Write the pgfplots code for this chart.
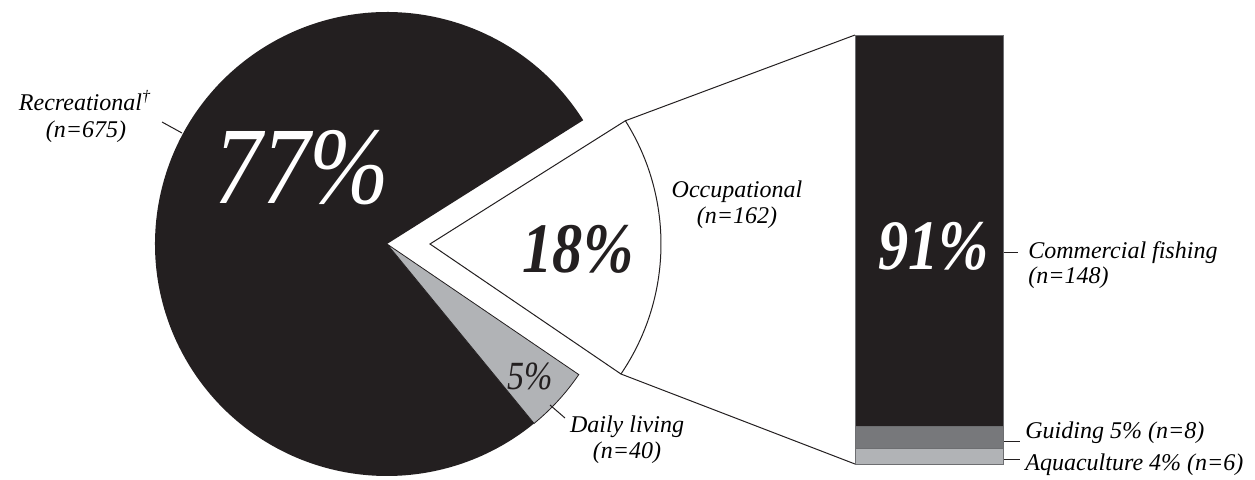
\documentclass[border=0pt]{standalone}
\usepackage{pgfplots}
\usepackage{pgfplotstable}
\pgfplotsset{compat=1.18}
\usepackage{fontspec}
\setmainfont{Liberation Serif}
\usepackage{graphicx}

\definecolor{cDark}{HTML}{231F20}
\definecolor{cLight}{HTML}{B1B3B6}
\definecolor{cMid}{HTML}{77787B}
\definecolor{cEdge}{HTML}{6D6E71}

% pie data (n)
\pgfplotstableread{
label n
Recreational 675
Occupational 162
Daily 40
}\pietable

\newcommand{\lab}{\fontsize{12pt}{13pt}\selectfont\itshape}

\begin{document}
\begin{tikzpicture}
\useasboundingbox (0,0) rectangle (627.5pt,239.5pt);
\pgfplotstablegetelem{0}{n}\of\pietable \let\nRec\pgfplotsretval
\pgfplotstablegetelem{1}{n}\of\pietable \let\nOcc\pgfplotsretval
\pgfplotstablegetelem{2}{n}\of\pietable \let\nDai\pgfplotsretval
\pgfmathsetmacro\tot{\nRec+\nOcc+\nDai}
\pgfmathsetmacro\aOcc{\nOcc/\tot*360}
\pgfmathsetmacro\aDai{\nDai/\tot*360}
\pgfmathsetmacro\occS{-1-\aOcc/2}
\pgfmathsetmacro\occE{-1+\aOcc/2}
\pgfmathsetmacro\daiS{\occS-\aDai}
\pgfmathsetmacro\recE{\daiS+360}

\begin{axis}[
  at={(0,0)}, anchor=south west,
  width=627.5pt, height=239.5pt, scale only axis,
  xmin=0, xmax=1255, ymin=0, ymax=479,
  hide axis, clip=false]
  % recreational
  \fill[cDark] (axis cs:387,235) -- ++(\occE:116pt)
     arc[start angle=\occE, end angle=\recE, radius=116pt] -- cycle;
  % daily living
  \filldraw[fill=cLight, draw=cDark, line width=0.4pt] (axis cs:387,235) -- ++(\daiS:116pt)
     arc[start angle=\daiS, end angle=\occS, radius=116pt] -- cycle;
  % occupational (exploded)
  \filldraw[fill=white, draw=cDark, line width=0.5pt] (axis cs:430,235) -- ++(\occS:115.5pt)
     arc[start angle=\occS, end angle=\occE, radius=115.5pt] -- cycle;
  % connectors
  \draw[cDark, line width=0.5pt] (axis cs:430,235) ++(\occE:115.5pt) -- (axis cs:855,444);
  \draw[cDark, line width=0.5pt] (axis cs:430,235) ++(\occS:115.5pt) -- (axis cs:855,15);
  % big percentages
  \node[inner sep=0, text=white] at (axis cs:302,311)
     {\scalebox{0.87}[1]{\fontsize{55pt}{60pt}\selectfont\itshape 77\%}};
  \node[inner sep=0, text=cDark] at (axis cs:578,230)
     {\scalebox{0.85}[1]{\fontsize{35.5pt}{40pt}\selectfont\bfseries\itshape 18\%}};
  \node[inner sep=0, text=cDark] at (axis cs:530,103)
     {\scalebox{0.85}[1]{\fontsize{20pt}{24pt}\selectfont\itshape 5\%}};
  % labels
  \node[anchor=base, inner sep=0] at (axis cs:85,369) {\lab Recreational\textsuperscript{\textdagger}};
  \node[anchor=base, inner sep=0] at (axis cs:86,342) {\lab (n=675)};
  \draw[cDark, line width=0.5pt] (axis cs:162,357) -- (axis cs:182,346);
  \node[anchor=base, inner sep=0] at (axis cs:737,282) {\lab Occupational};
  \node[anchor=base, inner sep=0] at (axis cs:737,256) {\lab (n=162)};
  \node[anchor=base, inner sep=0] at (axis cs:627,47) {\lab Daily living};
  \node[anchor=base, inner sep=0] at (axis cs:627,21) {\lab (n=40)};
  \draw[cDark, line width=0.5pt] (axis cs:550,74) -- (axis cs:565,61);
  \node[anchor=base west, inner sep=0] at (axis cs:1028,221) {\lab Commercial fishing};
  \node[anchor=base west, inner sep=0] at (axis cs:1028,196) {\lab (n=148)};
  \draw[cDark, line width=0.5pt] (axis cs:1003,227) -- (axis cs:1018,227);
  \node[anchor=base west, inner sep=0] at (axis cs:1025,41) {\lab Guiding 5\% (n=8)};
  \draw[cDark, line width=0.5pt] (axis cs:1003,38) -- (axis cs:1020,38);
  \node[anchor=base west, inner sep=0] at (axis cs:1025,9) {\lab Aquaculture 4\% (n=6)};
  \draw[cDark, line width=0.5pt] (axis cs:1003,20) -- (axis cs:1020,20);
\end{axis}

\begin{axis}[
  at={(427.5pt,7.5pt)}, anchor=south west,
  width=74pt, height=214.5pt, scale only axis,
  xmin=-0.5, xmax=0.5, ymin=0, ymax=162,
  hide axis, clip=false,
  ybar stacked, bar width=1]
  \addplot[fill=cLight, draw=cEdge, line width=0.5pt] coordinates {(0,6)};
  \addplot[fill=cMid, draw=cEdge, line width=0.5pt] coordinates {(0,8)};
  \addplot[fill=cDark, draw=cEdge, line width=0.5pt] coordinates {(0,148)};
  \coordinate (c91) at (axis cs:0.03,82);
\end{axis}
\node[inner sep=0, text=white] at (c91)
   {\scalebox{0.85}[1]{\fontsize{35.5pt}{40pt}\selectfont\bfseries\itshape 91\%}};
\end{tikzpicture}
\end{document}
